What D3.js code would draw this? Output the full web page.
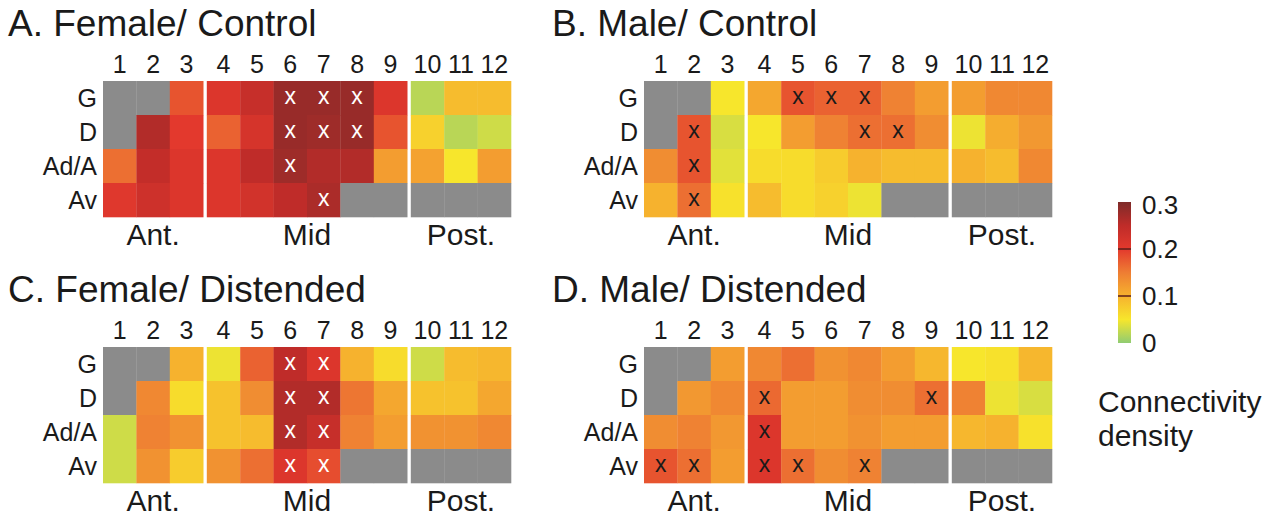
<!DOCTYPE html>
<html>
<head>
<meta charset="utf-8">
<script src="https://cdn.jsdelivr.net/npm/d3@7"></script>
<style>
  body { margin: 0; background: #fff; }
  svg text { font-family: "Liberation Sans", Arial, sans-serif; fill: #1a1a1a; }
</style>
</head>
<body>
<svg id="chart" width="1277" height="517"></svg>
<script>
// rows / columns of each map
const rowLabels = ["G", "D", "Ad/A", "Av"];
const colLabels = ["1", "2", "3", "4", "5", "6", "7", "8", "9", "10", "11", "12"];
const regionLabels = ["Ant.", "Mid", "Post."];
const regionOfCol = [0, 0, 0, 1, 1, 1, 1, 1, 1, 2, 2, 2];

// connectivity density, null = no data (grey)
const femaleControl = [
  [null, null, 0.18, 0.21, 0.24, 0.28, 0.28, 0.28, 0.21, 0.02, 0.09, 0.09],
  [null, 0.26, 0.20, 0.17, 0.22, 0.28, 0.275, 0.28, 0.18, 0.07, 0.02, 0.03],
  [0.16, 0.245, 0.21, 0.21, 0.25, 0.275, 0.26, 0.26, 0.12, 0.115, 0.05, 0.12],
  [0.205, 0.23, 0.21, 0.21, 0.225, 0.25, 0.265, null, null, null, null, null]
];
const maleControl = [
  [null, null, 0.05, 0.11, 0.18, 0.17, 0.17, 0.145, 0.12, 0.12, 0.14, 0.14],
  [null, 0.18, 0.035, 0.05, 0.12, 0.145, 0.16, 0.16, 0.135, 0.045, 0.105, 0.125],
  [0.135, 0.18, 0.04, 0.06, 0.06, 0.075, 0.10, 0.09, 0.09, 0.10, 0.09, 0.14],
  [0.10, 0.16, 0.055, 0.09, 0.06, 0.07, 0.045, null, null, null, null, null]
];
const femaleDistended = [
  [null, null, 0.10, 0.045, 0.17, 0.25, 0.21, 0.10, 0.06, 0.03, 0.09, 0.095],
  [null, 0.14, 0.06, 0.085, 0.135, 0.26, 0.26, 0.155, 0.11, 0.085, 0.085, 0.11],
  [0.03, 0.145, 0.13, 0.085, 0.09, 0.26, 0.24, 0.145, 0.12, 0.13, 0.13, 0.14],
  [0.03, 0.13, 0.075, 0.13, 0.16, 0.21, 0.185, null, null, null, null, null]
];
const maleDistended = [
  [null, null, 0.12, 0.14, 0.16, 0.13, 0.14, 0.12, 0.095, 0.05, 0.055, 0.095],
  [null, 0.125, 0.14, 0.165, 0.12, 0.12, 0.135, 0.135, 0.16, 0.145, 0.045, 0.035],
  [0.135, 0.145, 0.125, 0.21, 0.12, 0.12, 0.13, 0.12, 0.12, 0.095, 0.10, 0.055],
  [0.18, 0.16, 0.12, 0.21, 0.16, 0.135, 0.145, null, null, null, null, null]
];

// significant cells: [row index, column label]
const femaleControlSig = [[0, "6"], [0, "7"], [0, "8"], [1, "6"], [1, "7"], [1, "8"], [2, "6"], [3, "7"]];
const maleControlSig = [[0, "5"], [0, "6"], [0, "7"], [1, "2"], [1, "7"], [1, "8"], [2, "2"], [3, "2"]];
const femaleDistendedSig = [[0, "6"], [0, "7"], [1, "6"], [1, "7"], [2, "6"], [2, "7"], [3, "6"], [3, "7"]];
const maleDistendedSig = [[1, "4"], [1, "9"], [2, "4"], [3, "1"], [3, "2"], [3, "4"], [3, "5"], [3, "7"]];

const panelTitles = ["A. Female/ Control", "B. Male/ Control", "C. Female/ Distended", "D. Male/ Distended"];

// colour bar
const colorStops = [0, 0.05, 0.1, 0.15, 0.2, 0.25, 0.3];
const colorValues = ["#90cc72", "#f7e62c", "#f6b22e", "#ee7d33", "#e3392d", "#bf2c29", "#7e2b29"];
const barTicks = [0, 0.1, 0.2, 0.3];
const barTickLabels = ["0", "0.1", "0.2", "0.3"];

const color = d3.scaleLinear().domain(colorStops).range(colorValues).clamp(true);
const svg = d3.select("#chart");

const cellW = 33.4, cellH = 34, gap = 3.6;
const xBand = d3.scaleBand().domain(colLabels).range([0, cellW * 12]);
const yBand = d3.scaleBand().domain(rowLabels).range([0, cellH * 4]);
const colX = c => xBand(c) + regionOfCol[colLabels.indexOf(c)] * gap;

const panels = [
  { title: panelTitles[0], data: femaleControl, sig: femaleControlSig, x: 103, y: 81, tx: 8, mark: "#fff" },
  { title: panelTitles[1], data: maleControl, sig: maleControlSig, x: 644, y: 81, tx: 552, mark: "#1a1a1a" },
  { title: panelTitles[2], data: femaleDistended, sig: femaleDistendedSig, x: 103, y: 347, tx: 8, mark: "#fff" },
  { title: panelTitles[3], data: maleDistended, sig: maleDistendedSig, x: 644, y: 347, tx: 552, mark: "#1a1a1a" }
];

panels.forEach(p => {
  const g = svg.append("g").attr("transform", `translate(${p.x},${p.y})`);

  svg.append("text")
    .attr("x", p.tx).attr("y", p.y - 45)
    .attr("font-size", 37)
    .text(p.title);

  const cells = [];
  p.data.forEach((row, ri) => row.forEach((v, ci) => cells.push({ r: rowLabels[ri], c: colLabels[ci], v })));

  g.selectAll("rect.cell")
    .data(cells)
    .enter().append("rect")
    .attr("class", "cell")
    .attr("x", d => colX(d.c))
    .attr("y", d => yBand(d.r))
    .attr("width", xBand.bandwidth() + 0.3)
    .attr("height", yBand.bandwidth() + 0.3)
    .attr("fill", d => d.v === null ? "#8b8b8b" : color(d.v));

  g.selectAll("text.sig")
    .data(p.sig)
    .enter().append("text")
    .attr("class", "sig")
    .attr("x", d => colX(d[1]) + xBand.bandwidth() / 2)
    .attr("y", d => yBand(rowLabels[d[0]]) + yBand.bandwidth() / 2 + 6)
    .attr("text-anchor", "middle")
    .attr("font-size", 23)
    .style("fill", p.mark)
    .text("x");

  // column numbers
  g.selectAll("text.col")
    .data(colLabels)
    .enter().append("text")
    .attr("class", "col")
    .attr("x", d => colX(d) + xBand.bandwidth() / 2)
    .attr("y", -8)
    .attr("text-anchor", "middle")
    .attr("font-size", 25)
    .text(d => d);

  // row names
  g.selectAll("text.row")
    .data(rowLabels)
    .enter().append("text")
    .attr("class", "row")
    .attr("x", -6)
    .attr("y", d => yBand(d) + yBand.bandwidth() / 2 + 9)
    .attr("text-anchor", "end")
    .attr("font-size", 25)
    .text(d => d);

  // region names under the map
  g.selectAll("text.region")
    .data(regionLabels)
    .enter().append("text")
    .attr("class", "region")
    .attr("x", (d, i) => {
      const cs = colLabels.filter((c, k) => regionOfCol[k] === i);
      return (colX(cs[0]) + colX(cs[cs.length - 1]) + xBand.bandwidth()) / 2;
    })
    .attr("y", cellH * 4 + 28)
    .attr("text-anchor", "middle")
    .attr("font-size", 30)
    .text(d => d);
});

// colour bar
const barX = 1118, barW = 13;
const barY = d3.scaleLinear().domain([0, 0.3]).range([343, 202]);

const grad = svg.append("defs").append("linearGradient")
  .attr("id", "cbar").attr("x1", 0).attr("y1", 1).attr("x2", 0).attr("y2", 0);
grad.selectAll("stop")
  .data(colorStops)
  .enter().append("stop")
  .attr("offset", d => d / 0.3)
  .attr("stop-color", d => color(d));

svg.append("rect")
  .attr("x", barX).attr("y", barY(0.3))
  .attr("width", barW).attr("height", barY(0) - barY(0.3))
  .attr("fill", "url(#cbar)");

svg.selectAll("line.btick")
  .data(barTicks.filter(t => t > 0 && t < 0.3))
  .enter().append("line")
  .attr("class", "btick")
  .attr("x1", barX).attr("x2", barX + barW)
  .attr("y1", d => barY(d)).attr("y2", d => barY(d))
  .attr("stroke", "#5a1e1a").attr("stroke-width", 1.5);

svg.selectAll("text.blabel")
  .data(barTicks)
  .enter().append("text")
  .attr("class", "blabel")
  .attr("x", 1142)
  .attr("y", d => barY(d) + 9 + (d === 0.3 ? 3 : 0))
  .attr("font-size", 26)
  .text((d, i) => barTickLabels[i]);

svg.append("text").attr("x", 1098).attr("y", 412).attr("font-size", 30).text("Connectivity");
svg.append("text").attr("x", 1098).attr("y", 446).attr("font-size", 30).text("density");
</script>
</body>
</html>
